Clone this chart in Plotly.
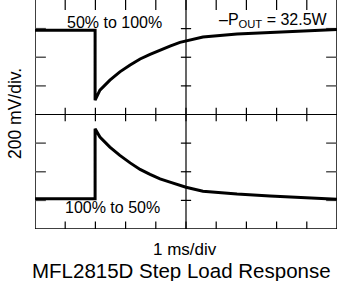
import plotly.graph_objects as go

# time in ms (1 ms/div), level in divisions (200 mV/div)
up_time = [0, 1.99, 1.99, 2.15, 2.48, 2.81, 3.15, 3.48, 3.81, 4.14, 4.47, 4.80, 5.0, 5.56, 6.69, 7.78, 8.87, 10]
up_level = [2.94, 2.94, 0.50, 0.85, 1.20, 1.49, 1.73, 1.94, 2.10, 2.25, 2.39, 2.52, 2.57, 2.71, 2.81, 2.87, 2.93, 2.97]

down_time = [0, 1.99, 1.99, 2.15, 2.48, 2.81, 3.15, 3.48, 3.81, 4.14, 4.47, 4.80, 5.0, 5.56, 6.69, 7.78, 8.87, 10]
down_level = [-2.94, -2.94, -0.50, -0.79, -1.14, -1.43, -1.69, -1.92, -2.09, -2.25, -2.36, -2.46, -2.54, -2.68, -2.78, -2.85, -2.91, -2.96]

x_divs = [1, 2, 3, 4, 6, 7, 8, 9]
y_divs = [-3, -2, -1, 1, 2, 3]

FONT = "Liberation Sans, Arial, Helvetica, sans-serif"

fig = go.Figure()
fig.add_trace(go.Scatter(x=up_time, y=up_level, mode="lines",
                         line=dict(color="black", width=3), hoverinfo="skip"))
fig.add_trace(go.Scatter(x=down_time, y=down_level, mode="lines",
                         line=dict(color="black", width=3), hoverinfo="skip"))

shapes = []
def seg(x0, y0, x1, y1, w=1.2, c="black"):
    shapes.append(dict(type="line", xref="x", yref="y", x0=x0, y0=y0, x1=x1, y1=y1,
                       line=dict(color=c, width=w), layer="below"))

# frame and centre lines
seg(0, -4, 0, 4, 1.5)
seg(10, -4, 10, 4, 1.5)
seg(0, -4, 10, -4, 1.5)
seg(5, -4, 5, 4, 1.2)
seg(0, 0, 10, 0, 1.2)

for xv in x_divs + [5]:
    seg(xv, 4, xv, 3.65, 1.2)
    seg(xv, -4, xv, -3.74, 1.2)
    seg(xv, -0.24, xv, 0.24, 1.2)
for yv in y_divs:
    seg(0, yv, 0.36, yv, 1.5, "#555")
    seg(10, yv, 9.64, yv, 1.5, "#555")
    seg(4.83, yv, 5.17, yv, 1.2)

def px_x(px):
    return (px - 35) / 302
def px_y(py):
    return (229 - py) / 229

annotations = [
    dict(text="50% to 100%", x=2.62, y=3.23, xref="x", yref="y", showarrow=False,
         font=dict(size=16, color="black", family=FONT), xanchor="center", yanchor="middle"),
    dict(text="100% to 50%", x=2.55, y=-3.26, xref="x", yref="y", showarrow=False,
         font=dict(size=16, color="black", family=FONT), xanchor="center", yanchor="middle"),
    dict(text="\u2013P<sub>OUT</sub> = 32.5W", x=9.76, y=3.30, xref="x", yref="y", showarrow=False,
         font=dict(size=16, color="black", family=FONT), xanchor="right", yanchor="middle"),
    dict(text="1 ms/div", x=px_x(185), y=px_y(249), xref="paper", yref="paper", showarrow=False,
         font=dict(size=17, color="black", family=FONT), xanchor="center", yanchor="middle"),
    dict(text="MFL2815D Step Load Response", x=px_x(181), y=px_y(270), xref="paper", yref="paper",
         showarrow=False, font=dict(size=20.5, color="black", family=FONT),
         xanchor="center", yanchor="middle"),
    dict(text="200 mV/div.", x=px_x(14.5), y=px_y(113.5), xref="paper", yref="paper",
         showarrow=False, textangle=-90, font=dict(size=17.5, color="black", family=FONT),
         xanchor="center", yanchor="middle"),
]

fig.update_layout(
    width=339, height=281,
    margin=dict(l=35, r=2, t=0, b=52),
    paper_bgcolor="white", plot_bgcolor="white",
    showlegend=False,
    xaxis=dict(range=[0, 10], visible=False, fixedrange=True),
    yaxis=dict(range=[-4, 4], visible=False, fixedrange=True),
    shapes=shapes,
    annotations=annotations,
)

fig.write_html("out.html", config={"displayModeBar": False},
               post_script="document.body.style.margin='0';document.body.style.overflow='hidden';")
